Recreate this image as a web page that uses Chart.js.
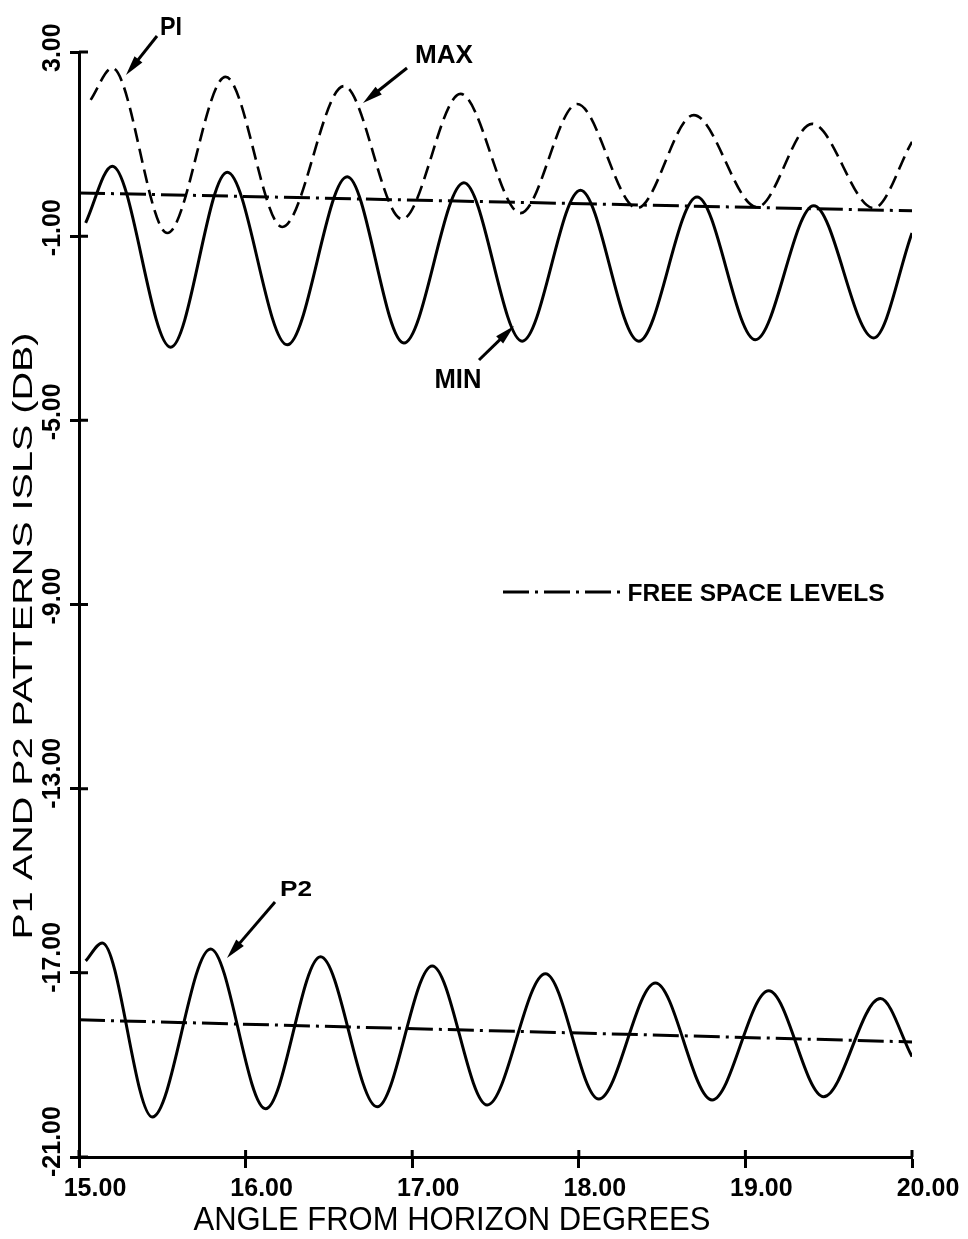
<!DOCTYPE html>
<html>
<head>
<meta charset="utf-8">
<script src="https://cdn.jsdelivr.net/npm/chart.js@4/dist/chart.umd.min.js"></script>
<style>
    body { margin: 0; background: #fff; }
    canvas { display: block; }
</style>
</head>
<body>
<canvas id="grafico" width="968" height="1239"></canvas>
<script>
// ==========================================
// P1 / P2 PATTERNS ISLS vs ANGLE
// ==========================================

// ejes
const xTicks = [15, 16, 17, 18, 19, 20];
const yTicks = [-21, -17, -13, -9, -5, -1, 3];

// P1 maximo (discontinua)
const p1MaxX  = [15.07, 15.20, 15.53, 15.88, 16.22, 16.59, 16.94, 17.29, 17.65, 17.99, 18.35, 18.69, 19.07, 19.40, 19.77, 20.00];
const p1MaxDb = [1.96, 2.65, -0.93, 2.46, -0.80, 2.26, -0.63, 2.09, -0.50, 1.87, -0.39, 1.63, -0.37, 1.44, -0.39, 1.05];

// P1 minimo
const p1MinX  = [15.04, 15.20, 15.55, 15.89, 16.25, 16.61, 16.95, 17.31, 17.66, 18.01, 18.36, 18.71, 19.06, 19.41, 19.77, 20.00];
const p1MinDb = [-0.71, 0.52, -3.41, 0.39, -3.36, 0.29, -3.32, 0.16, -3.28, 0.00, -3.28, -0.15, -3.25, -0.34, -3.21, -0.93];

// P2
const p2X  = [15.04, 15.14, 15.44, 15.79, 16.12, 16.45, 16.79, 17.12, 17.45, 17.80, 18.12, 18.46, 18.80, 19.14, 19.47, 19.81, 20.00];
const p2Db = [-16.74, -16.35, -20.13, -16.48, -19.95, -16.65, -19.91, -16.85, -19.87, -17.02, -19.74, -17.22, -19.76, -17.39, -19.69, -17.56, -18.82];

// niveles de espacio libre
const libreP1X  = [15.00, 20.00];
const libreP1Db = [-0.06, -0.45];
const libreP2X  = [15.00, 20.00];
const libreP2Db = [-18.02, -18.50];

const NEGRO = "#000";
const PUNTO_RAYA = [26, 6, 3, 6];

function crearSerie(xs, ys) {
    return xs.map((x, i) => ({ x: x, y: ys[i] }));
}

function linea(label, xs, ys, dash, ancho) {
    return {
        label: label,
        data: crearSerie(xs, ys),
        borderColor: NEGRO,
        borderWidth: ancho,
        borderDash: dash,
        pointRadius: 0,
        fill: false,
        cubicInterpolationMode: "monotone"
    };
}

// texto estirado a un ancho dado (fuente de plotter)
function dibujarTexto(ctx, texto, cx, cy, size, peso, ancho, angulo) {
    ctx.save();
    ctx.translate(cx, cy);
    if (angulo) ctx.rotate(angulo);
    ctx.font = peso + " " + size + "px 'Liberation Sans', Arial, sans-serif";
    const w = ctx.measureText(texto).width;
    ctx.scale(ancho / w, 1);
    ctx.fillStyle = NEGRO;
    ctx.textAlign = "center";
    ctx.textBaseline = "alphabetic";
    ctx.fillText(texto, 0, size * 0.36);
    ctx.restore();
}

function flecha(ctx, x1, y1, x2, y2) {
    const ang = Math.atan2(y2 - y1, x2 - x1);
    const largo = 20;
    const medio = 5;
    ctx.save();
    ctx.strokeStyle = NEGRO;
    ctx.fillStyle = NEGRO;
    ctx.lineWidth = 3;
    ctx.beginPath();
    ctx.moveTo(x1, y1);
    ctx.lineTo(x2 - Math.cos(ang) * largo * 0.6, y2 - Math.sin(ang) * largo * 0.6);
    ctx.stroke();
    ctx.beginPath();
    ctx.moveTo(x2, y2);
    ctx.lineTo(x2 - Math.cos(ang) * largo - Math.sin(ang) * medio, y2 - Math.sin(ang) * largo + Math.cos(ang) * medio);
    ctx.lineTo(x2 - Math.cos(ang) * largo + Math.sin(ang) * medio, y2 - Math.sin(ang) * largo - Math.cos(ang) * medio);
    ctx.closePath();
    ctx.fill();
    ctx.restore();
}

const anotaciones = {
    id: "anotaciones",
    afterDraw(chart) {
        const ctx = chart.ctx;
        const area = chart.chartArea;
        const sx = chart.scales.x;
        const sy = chart.scales.y;

        // marcas hacia dentro
        ctx.save();
        ctx.strokeStyle = NEGRO;
        ctx.lineWidth = 3;
        ctx.beginPath();
        sy.ticks.forEach(t => {
            const py = sy.getPixelForValue(t.value);
            ctx.moveTo(area.left, py);
            ctx.lineTo(area.left + 9, py);
        });
        sx.ticks.forEach(t => {
            const px = sx.getPixelForValue(t.value);
            ctx.moveTo(px, area.bottom);
            ctx.lineTo(px, area.bottom - 7);
        });
        ctx.stroke();
        ctx.restore();

        // titulos de ejes
        dibujarTexto(ctx, "P1 AND P2 PATTERNS ISLS (DB)", 22, 636, 28, "normal", 607, -Math.PI / 2);
        dibujarTexto(ctx, "ANGLE FROM HORIZON DEGREES", 452, 1218, 34, "normal", 517, 0);

        // etiquetas
        dibujarTexto(ctx, "PI", 171, 26, 25, "bold", 22, 0);
        dibujarTexto(ctx, "MAX", 444, 54, 25, "bold", 58, 0);
        dibujarTexto(ctx, "MIN", 458, 378, 27, "bold", 47, 0);
        dibujarTexto(ctx, "P2", 296, 888, 22, "bold", 32, 0);

        flecha(ctx, 157, 36, 126, 75);
        flecha(ctx, 407, 68, 363, 103);
        flecha(ctx, 479, 360, 514, 326);
        flecha(ctx, 275, 902, 227, 958);

        // leyenda
        ctx.save();
        ctx.strokeStyle = NEGRO;
        ctx.lineWidth = 3;
        ctx.setLineDash(PUNTO_RAYA);
        ctx.beginPath();
        ctx.moveTo(503, 592);
        ctx.lineTo(623, 592);
        ctx.stroke();
        ctx.restore();
        dibujarTexto(ctx, "FREE SPACE LEVELS", 756, 592, 24, "bold", 257, 0);
    }
};

const fuenteTicks = { family: "'Liberation Sans', Arial, sans-serif", size: 25, weight: "bold" };

new Chart(document.getElementById("grafico"), {
    type: "line",
    data: {
        datasets: [
            linea("P1 MAX", p1MaxX, p1MaxDb, [14, 7], 2.6),
            linea("P1 MIN", p1MinX, p1MinDb, [], 3),
            linea("P1 FREE SPACE", libreP1X, libreP1Db, PUNTO_RAYA, 3),
            linea("P2", p2X, p2Db, [], 3),
            linea("P2 FREE SPACE", libreP2X, libreP2Db, PUNTO_RAYA, 3)
        ]
    },
    options: {
        responsive: false,
        animation: false,
        devicePixelRatio: 1,
        layout: { padding: { left: 53, right: 56, top: 52, bottom: 0 } },
        plugins: {
            legend: { display: false },
            tooltip: { enabled: false }
        },
        scales: {
            x: {
                type: "linear",
                min: 15,
                max: 20,
                afterBuildTicks: s => { s.ticks = xTicks.map(v => ({ value: v })); },
                afterFit: s => { s.height = 82; },
                grid: { drawOnChartArea: false, tickLength: 11, tickWidth: 3, tickColor: NEGRO },
                border: { display: true, color: NEGRO, width: 3 },
                ticks: {
                    color: NEGRO,
                    font: fuenteTicks,
                    padding: 6,
                    labelOffset: 16,
                    maxRotation: 0,
                    minRotation: 0,
                    callback: v => v.toFixed(2)
                }
            },
            y: {
                type: "linear",
                min: -21,
                max: 3,
                afterBuildTicks: s => { s.ticks = yTicks.map(v => ({ value: v })); },
                afterFit: s => {
                    s.width = 26;
                    // etiquetas giradas: sin recorte al ancho del eje
                    s._computeLabelArea = () => null;
                },
                grid: { drawOnChartArea: false, tickLength: 9, tickWidth: 3, tickColor: NEGRO },
                border: { display: true, color: NEGRO, width: 3 },
                ticks: {
                    color: NEGRO,
                    font: fuenteTicks,
                    minRotation: 90,
                    maxRotation: 90,
                    crossAlign: "far",
                    labelOffset: 20,
                    callback: v => v.toFixed(2)
                }
            }
        }
    },
    plugins: [anotaciones]
});
</script>
</body>
</html>
